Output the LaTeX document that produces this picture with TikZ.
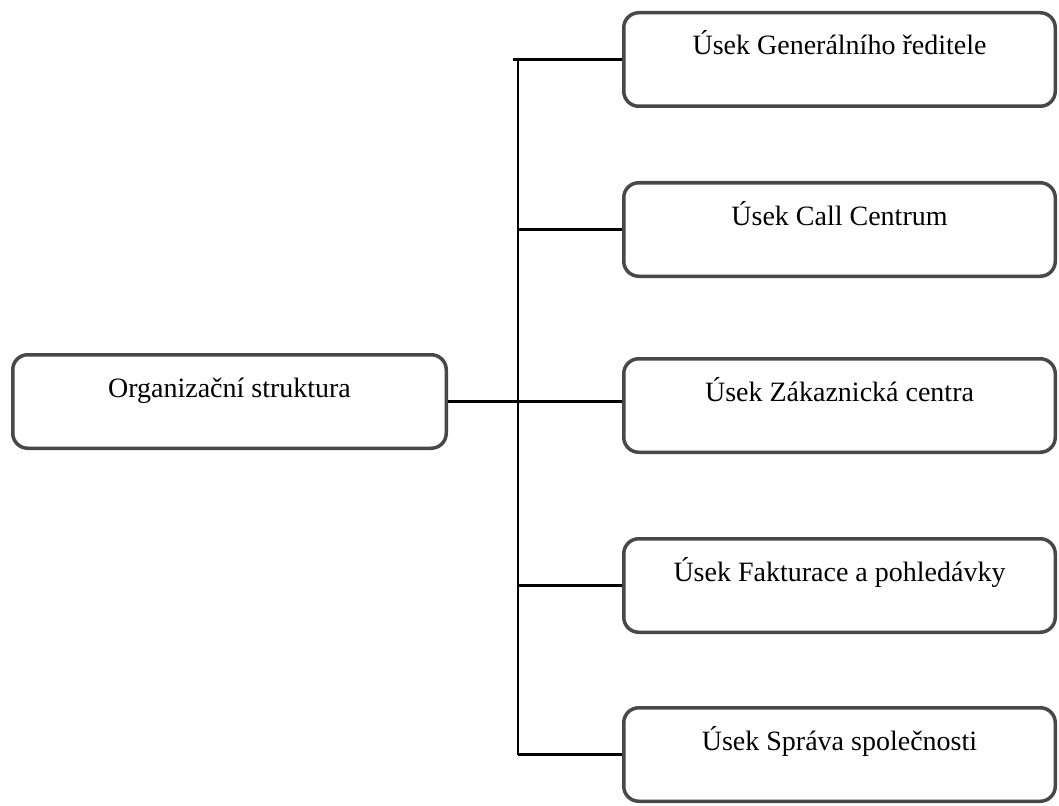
\documentclass[tikz,border=0pt]{standalone}
\usepackage{fontspec}
\setmainfont{Liberation Serif}
\usepackage{tikz}
\usetikzlibrary{positioning,calc}
\definecolor{boxgray}{RGB}{72,72,72}

\begin{document}
\begin{tikzpicture}[x=1pt,y=-1pt,
  unit/.style={draw=boxgray,line width=3.5pt,rounded corners=15pt,fill=white,
    minimum width=431.5pt,minimum height=93.5pt,font=\fontsize{28}{33}\selectfont,
    text height=20pt,text depth=29pt},
  conn/.style={line width=2.8pt}]
  \useasboundingbox (0,0) rectangle (1059,805);
  \node[unit,minimum width=433.5pt] (org) at (229.5,401.5) {Organizační struktura};
  \node[unit] (ged) at (839.5,59.5) {Úsek Generálního ředitele};
  \node[unit,below=73pt of ged] (call) {Úsek Call Centrum};
  \node[unit,below=79pt of call] (zak) {Úsek Zákaznická centra};
  \node[unit,below=83pt of zak] (fak) {Úsek Fakturace a pohledávky};
  \node[unit,below=72pt of fak] (spr) {Úsek Správa společnosti};
  \coordinate (bus) at (518,0);
  \draw[conn] (bus |- ged.west) -- (bus |- spr.west);
  \draw[conn] ($(bus |- ged.west)+(-5,0)$) -- (ged.west);
  \foreach \n in {call,fak,spr}
    \draw[conn] (bus |- \n.west) -- (\n.west);
  \draw[conn] (org.east) -- (org.east -| zak.west);
\end{tikzpicture}
\end{document}
